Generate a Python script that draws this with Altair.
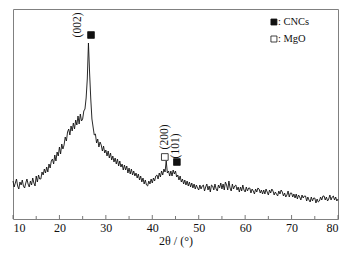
import altair as alt
import pandas as pd

# XRD intensity (a.u.), 2θ from 10° to 80° sampled every 0.25°
intensity = [
    38, 32, 36, 40,    # 10
    33, 30, 37, 34,    # 11
    39, 33, 31, 36,    # 12
    40, 35, 32, 38,    # 13
    34, 41, 36, 33,    # 14
    43, 37, 44, 40,    # 15
    40, 47, 44, 50,    # 16
    46, 52, 47, 55,    # 17
    51, 58, 60, 55,    # 18
    64, 58, 67, 63,    # 19
    72, 65, 75, 70,    # 20
    74, 82, 78, 87,    # 21
    90, 84, 93, 88,    # 22
    96, 90, 99, 94,    # 23
    103, 95, 105, 98,  # 24
    100, 108, 110, 121,  # 25
    140, 176, 146, 120,  # 26
    100, 92, 84, 85,   # 27
    76, 80, 72, 77,    # 28
    74, 68, 73, 66,    # 29
    69, 63, 68, 61,    # 30
    66, 59, 63, 57,    # 31
    61, 55, 60, 53,    # 32
    58, 52, 55, 49,    # 33
    54, 49, 53, 46,    # 34
    51, 45, 50, 44,    # 35
    48, 43, 46, 41,    # 36
    45, 39, 43, 37,    # 37
    41, 35, 39, 34,    # 38
    33, 38, 35, 40,    # 39
    36, 41, 38, 43,    # 40
    44, 40, 46, 42,    # 41
    48, 44, 50, 47,    # 42
    58, 46, 48, 43,    # 43
    48, 43, 49, 45,    # 44
    48, 42, 44, 39,    # 45
    43, 37, 40, 35,    # 46
    39, 34, 38, 33,    # 47
    37, 32, 36, 31,    # 48
    35, 30, 34, 31,    # 49
    29, 34, 30, 33,    # 50
    34, 28, 32, 35,    # 51
    29, 33, 27, 34,    # 52
    33, 29, 35, 30,    # 53
    28, 34, 31, 36,    # 54
    30, 35, 29, 37,    # 55
    34, 29, 38, 31,    # 56
    28, 35, 30, 33,    # 57
    34, 29, 32, 27,    # 58
    32, 28, 34, 29,    # 59
    27, 32, 28, 31,    # 60
    31, 26, 30, 28,    # 61
    25, 30, 27, 31,    # 62
    30, 26, 29, 25,    # 63
    29, 25, 30, 27,    # 64
    24, 29, 26, 30,    # 65
    28, 24, 27, 25,    # 66
    23, 28, 25, 29,    # 67
    27, 23, 26, 22,    # 68
    24, 28, 22, 26,    # 69
    26, 22, 25, 21,    # 70
    25, 20, 24, 22,    # 71
    19, 24, 21, 23,    # 72
    23, 18, 22, 19,    # 73
    17, 22, 18, 21,    # 74
    21, 16, 20, 17,    # 75
    18, 22, 19, 23,    # 76
    23, 19, 22, 18,    # 77
    20, 24, 19, 22,    # 78
    23, 19, 22, 18,    # 79
    20,                # 80
]
two_theta = [round(10 + 0.25 * i, 2) for i in range(len(intensity))]

major_ticks = [10, 20, 30, 40, 50, 60, 70, 80]
minor_ticks = [15, 25, 35, 45, 55, 65, 75]

peak_labels = ["(002)", "(200)", "(101)"]
peak_label_x = [24.0, 42.7, 45.1]
peak_label_y = [194, 82, 73]

marker_x = [26.8, 42.7, 45.3]
marker_y = [184, 62, 57]
marker_phase = ["CNCs", "MgO", "CNCs"]

legend_phase = ["CNCs", "MgO"]
legend_text = [": CNCs", ": MgO"]
legend_x = [66.2, 66.2]
legend_y = [197, 180]

FONT = "Liberation Serif"

df = pd.DataFrame({"two_theta": two_theta, "intensity": intensity})
xscale = alt.Scale(domain=[10, 80], nice=False, zero=False)
yscale = alt.Scale(domain=[0, 210], nice=False, zero=False)
phase_fill = alt.Scale(domain=["CNCs", "MgO"], range=["#111111", "#ffffff"])

line = alt.Chart(df).mark_line(color="#111111", strokeWidth=0.9).encode(
    x=alt.X("two_theta:Q", scale=xscale,
            axis=alt.Axis(values=major_ticks, format="d", title="2θ / (°)",
                          labelFont=FONT, labelFontSize=12, labelColor="#111111",
                          titleFont=FONT, titleFontSize=12, titleFontWeight="normal",
                          titleColor="#111111", ticks=False, domain=False, grid=False,
                          labelPadding=3, titlePadding=2)),
    y=alt.Y("intensity:Q", scale=yscale, axis=None),
)

ticks_df = pd.DataFrame({"t": major_ticks + minor_ticks,
                         "kind": ["major"] * len(major_ticks) + ["minor"] * len(minor_ticks)})
major_rule = alt.Chart(ticks_df[ticks_df.kind == "major"]).mark_rule(
    color="#555555", strokeWidth=0.8).encode(
    x=alt.X("t:Q", scale=xscale), y=alt.value(210), y2=alt.value(206))
minor_rule = alt.Chart(ticks_df[ticks_df.kind == "minor"]).mark_rule(
    color="#555555", strokeWidth=0.8).encode(
    x=alt.X("t:Q", scale=xscale), y=alt.value(210), y2=alt.value(207))

lab_df = pd.DataFrame({"x": peak_label_x, "y": peak_label_y, "t": peak_labels})
labels = alt.Chart(lab_df).mark_text(
    angle=270, font=FONT, fontSize=11.5, color="#111111",
    align="center", baseline="middle").encode(
    x=alt.X("x:Q", scale=xscale), y=alt.Y("y:Q", scale=yscale), text="t:N")

mk_df = pd.DataFrame({"x": marker_x, "y": marker_y, "phase": marker_phase})
markers = alt.Chart(mk_df).mark_point(
    shape="square", size=45, filled=True, stroke="#111111", strokeWidth=0.8,
    opacity=1).encode(
    x=alt.X("x:Q", scale=xscale), y=alt.Y("y:Q", scale=yscale),
    fill=alt.Fill("phase:N", scale=phase_fill, legend=None))

lg_df = pd.DataFrame({"x": legend_x, "y": legend_y, "phase": legend_phase, "t": legend_text})
lg_marks = alt.Chart(lg_df).mark_point(
    shape="square", size=36, filled=True, stroke="#111111", strokeWidth=0.8,
    opacity=1).encode(
    x=alt.X("x:Q", scale=xscale), y=alt.Y("y:Q", scale=yscale),
    fill=alt.Fill("phase:N", scale=phase_fill, legend=None))
lg_text = alt.Chart(lg_df).mark_text(
    font=FONT, fontSize=10.5, color="#111111", align="left", baseline="middle", dx=4).encode(
    x=alt.X("x:Q", scale=xscale), y=alt.Y("y:Q", scale=yscale), text="t:N")

chart = alt.layer(line, major_rule, minor_rule, labels, markers, lg_marks, lg_text).properties(
    width=325, height=210,
    autosize=alt.AutoSizeParams(type="none"),
    padding={"left": 13, "top": 9, "right": 13, "bottom": 35},
    background="white",
).configure(font=FONT).configure_axis(
    labelFont=FONT, titleFont=FONT
).configure_view(stroke="#808080", strokeWidth=1)

chart.save("out.html", embed_options={"renderer": "svg", "actions": False})
